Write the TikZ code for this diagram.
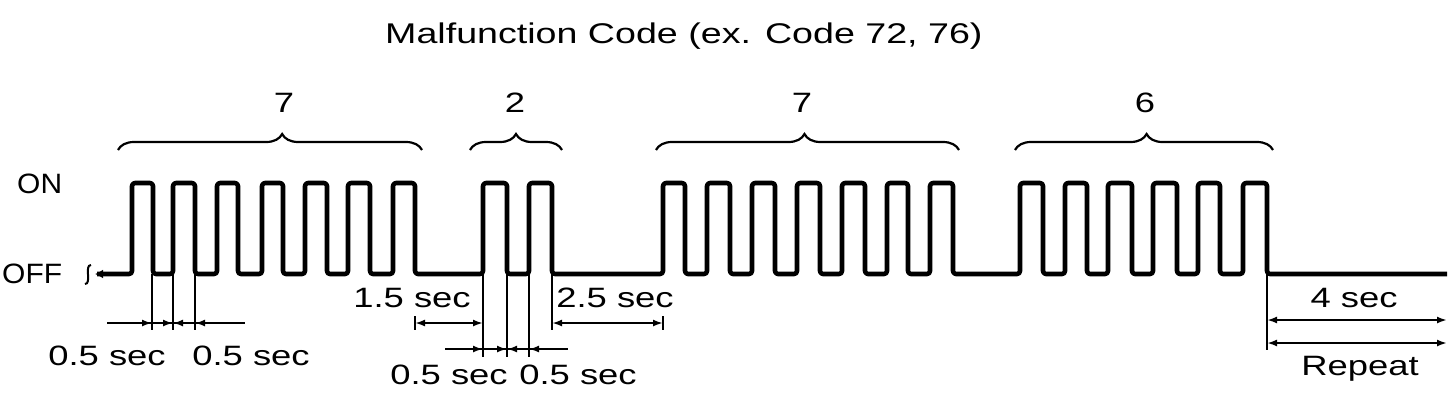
\documentclass[tikz,border=0pt]{standalone}
\usepackage{fontspec}
\setmainfont{Liberation Sans}[FakeStretch=1.3]
\newfontfamily\titlefont{Liberation Sans}[FakeStretch=1.32]
\newfontfamily\levelfont{Liberation Sans}[FakeStretch=1.07]
\usetikzlibrary{arrows.meta,decorations.pathreplacing}
\begin{document}
\begin{tikzpicture}[x=1pt,y=-1pt,
  wave/.style={line width=4.6pt, rounded corners=3pt, line join=round},
  ext/.style={line width=1.6pt},
  dim/.style={line width=2.3pt},
  tip/.style={dim,-{Latex[length=10pt,width=7pt]}},
  both/.style={dim,{Latex[length=10pt,width=7pt]}-{Latex[length=10pt,width=7pt]}},
  lbl/.style={font=\fontsize{28}{32}\selectfont, inner sep=0pt, anchor=base},
  brc/.style={line width=2.2pt, decorate},
]
\useasboundingbox (0,0) rectangle (1456,400);

% title and level labels
\node[font=\titlefont\fontsize{28.5}{32}\selectfont, inner sep=0pt, anchor=base west] (title) at (385,43) {Malfunction Code (ex. Code 72, 76)};
\node[font=\levelfont\fontsize{28}{32}\selectfont, inner sep=0pt, anchor=base west] (on) at (17,193) {ON};
\node[font=\levelfont\fontsize{28}{32}\selectfont, inner sep=0pt, anchor=base west] (off) at (2,283) {OFF};

% braces and digit labels
\draw[brc, decoration={brace, amplitude=16pt, aspect=0.54}] (118,150) -- (422,150);
\draw[brc, decoration={brace, amplitude=16pt, aspect=0.5}] (470,150) -- (562,150);
\draw[brc, decoration={brace, amplitude=16pt, aspect=0.49}] (656,150) -- (959,150);
\draw[brc, decoration={brace, amplitude=16pt, aspect=0.51}] (1015,150) -- (1273,150);
\node[lbl] (d1) at (284,112) {7};
\node[lbl] (d2) at (515,112) {2};
\node[lbl] (d3) at (802,112) {7};
\node[lbl] (d4) at (1145,112) {6};

% break mark and start of the line
\draw[line width=2pt] (85,284) .. controls (92,284) and (84,265) .. (91,265);
\draw[line width=2pt, -{Latex[length=8pt,width=9pt]}] (112,274) -- (95,274);

% waveform
\draw[wave] (97,274)
  \foreach \r/\f in {132/153,173/195,217/238,262/283,305/327,348/370,393/415,
                     483/507,529/552,
                     663/685,707/730,752/775,797/820,842/865,887/908,930/953,
                     1020/1043,1065/1087,1108/1132,1153/1177,1198/1220,1243/1267}
  { -- (\r,274) -- (\r,183) -- (\f,183) -- (\f,274) }
  -- (1447,274);

% first 0.5 sec dimension
\foreach \x in {152,173,195} \draw[ext] (\x,274) -- (\x,330);
\draw[dim] (107,323) -- (245,323);
\draw[tip] (138,323) -- (152,323);
\draw[tip] (160,323) -- (173,323);
\draw[tip] (186,323) -- (173,323);
\draw[tip] (209,323) -- (195,323);
\node[lbl] (h1) at (107,365) {0.5 sec};
\node[lbl] (h2) at (251,365) {0.5 sec};

% 1.5 sec dimension
\draw[ext] (415,316) -- (415,330);
\draw[both] (415,323) -- (483,323);
\node[lbl] (p15) at (412,307) {1.5 sec};

% second 0.5 sec dimension
\foreach \x in {483,507,529} \draw[ext] (\x,274) -- (\x,357);
\draw[dim] (445,349) -- (568,349);
\draw[tip] (469,349) -- (483,349);
\draw[tip] (494,349) -- (507,349);
\draw[tip] (520,349) -- (507,349);
\draw[tip] (543,349) -- (529,349);
\node[lbl] (h3) at (449,384) {0.5 sec};
\node[lbl] (h4) at (578,384) {0.5 sec};

% 2.5 sec dimension
\draw[ext] (552,274) -- (552,330);
\draw[ext] (663,316) -- (663,330);
\draw[both] (552,323) -- (663,323);
\node[lbl] (p25) at (615,307) {2.5 sec};

% 4 sec and repeat
\draw[ext] (1267,274) -- (1267,350);
\draw[both] (1267,320) -- (1447,320);
\draw[both] (1267,343) -- (1447,343);
\node[lbl] (p4) at (1354,307) {4 sec};
\node[lbl] (rep) at (1360,375) {Repeat};
\end{tikzpicture}
\end{document}
